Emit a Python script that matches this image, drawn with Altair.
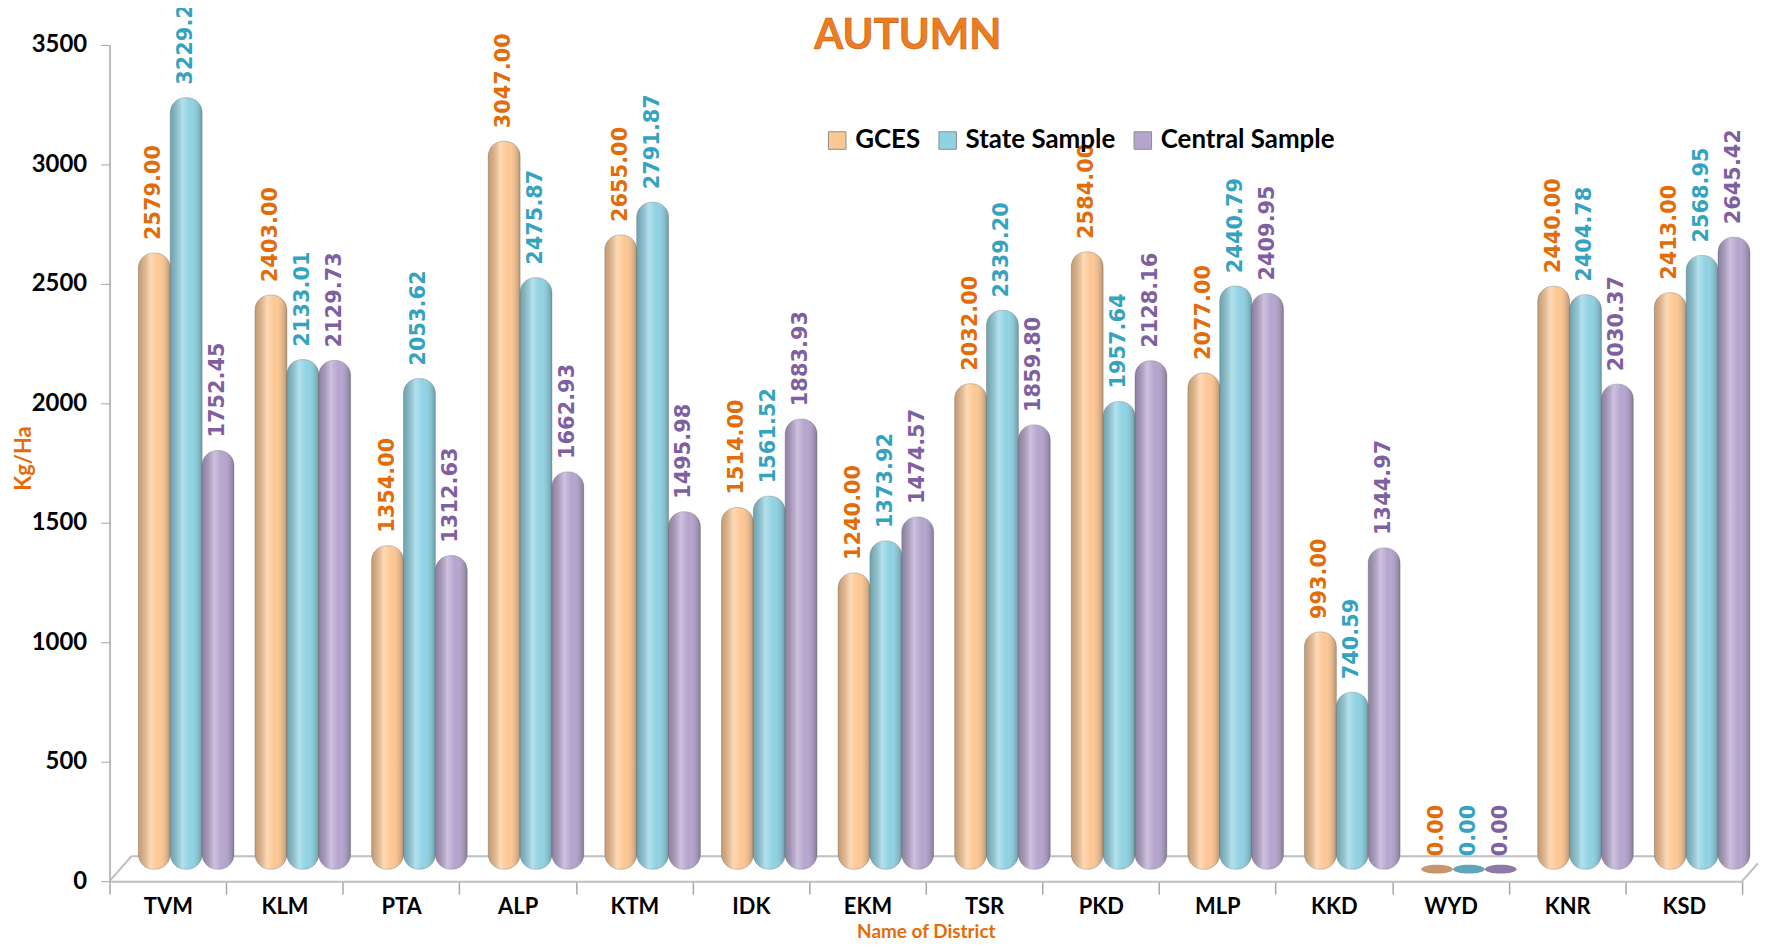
import altair as alt
import pandas as pd

districts = ["TVM", "KLM", "PTA", "ALP", "KTM", "IDK", "EKM", "TSR", "PKD", "MLP", "KKD", "WYD", "KNR", "KSD"]
series = ["GCES", "State Sample", "Central Sample"]
gces = [2579.00, 2403.00, 1354.00, 3047.00, 2655.00, 1514.00, 1240.00, 2032.00, 2584.00, 2077.00, 993.00, 0.00, 2440.00, 2413.00]
state = [3229.27, 2133.01, 2053.62, 2475.87, 2791.87, 1561.52, 1373.92, 2339.20, 1957.64, 2440.79, 740.59, 0.00, 2404.78, 2568.95]
central = [1752.45, 2129.73, 1312.63, 1662.93, 1495.98, 1883.93, 1474.57, 1859.80, 2128.16, 2409.95, 1344.97, 0.00, 2030.37, 2645.42]
y_ticks = [0, 500, 1000, 1500, 2000, 2500, 3000, 3500]

bar_colors = ["#FDC793", "#8FD2E3", "#B5A4CE"]
label_colors = ["#E36C09", "#35A3BF", "#7E60A0"]
base_colors = ["#C9956B", "#5FA7B8", "#8E7AA5"]

rows = []
for i, d in enumerate(districts):
    for s, vals in zip(series, [gces, state, central]):
        rows.append({"district": d, "series": s, "value": vals[i]})
df = pd.DataFrame(rows)

W, H = 1640, 840
LIFT = 12  # 3-D floor lift of the bars (px)

# --- axis layer (front plane of the 3-D floor) ---
x_axis = alt.Axis(title="Name of District", labelAngle=0, tickBand="extent",
                  domainColor="#BFBFBF", domainWidth=2, tickColor="#A6A6A6", tickWidth=1.5,
                  tickSize=13, labelPadding=3,
                  labelFont="Lato", labelFontWeight="bold", labelFontSize=22, labelColor="#000000",
                  titleFont="Lato", titleFontWeight="bold", titleFontSize=19, titleColor="#E36C09",
                  titleY=57, titleBaseline="alphabetic")
y_axis = alt.Axis(title="Kg/Ha", values=y_ticks, format="d",
                  grid=False, domainColor="#A6A6A6", domainWidth=1.5, tickColor="#A6A6A6",
                  tickSize=9, labelPadding=14,
                  labelFont="Lato", labelFontWeight="bold", labelFontSize=24, labelColor="#000000",
                  titleFont="Lato", titleFontWeight="bold", titleFontSize=22, titleColor="#E36C09",
                  titleX=-86, titleY=415, titleAngle=270, titleAlign="center", titleBaseline="middle")

axis_layer = alt.Chart(df).mark_tick(opacity=0).encode(
    x=alt.X("district:N", sort=districts, scale=alt.Scale(paddingInner=0, paddingOuter=0), axis=x_axis),
    y=alt.Y("value:Q", scale=alt.Scale(domain=[0, 3500], nice=False), axis=y_axis),
)

# --- bars on the raised back floor ---
xs = alt.X("district:N", sort=districts)
xoff = alt.XOffset("series:N", sort=series, scale=alt.Scale(range=[29, 125], paddingOuter=0, paddingInner=0))
ys = alt.Y("value:Q", stack=None, axis=None,
           scale=alt.Scale(domain=[0, 3500], nice=False, range=[H - LIFT, -LIFT]))

base = alt.Chart(df)

bars = base.mark_bar(cornerRadius=15, stroke="#7F7F7F", strokeOpacity=0.45, strokeWidth=1).encode(
    x=xs, xOffset=xoff, y=ys, y2=alt.datum(0),
    color=alt.Color("series:N", sort=series,
                    scale=alt.Scale(domain=series, range=bar_colors),
                    legend=alt.Legend(title=None, orient="none", direction="horizontal",
                                      legendX=718, legendY=83, symbolType="square", symbolSize=310,
                                      symbolStrokeColor="#8C8C8C", symbolStrokeWidth=1, labelLimit=0,
                                      labelFont="Lato", labelFontWeight="bold", labelFontSize=26,
                                      labelColor="#000000", columnPadding=14, labelOffset=5)),
).transform_filter("datum.value > 0")

shade = base.mark_bar(cornerRadius=15,
                      color=alt.Gradient(gradient="linear", x1=0, x2=1, y1=0, y2=0,
                                         stops=[alt.GradientStop(color="rgba(0,0,0,0.22)", offset=0),
                                                alt.GradientStop(color="rgba(255,255,255,0.32)", offset=0.38),
                                                alt.GradientStop(color="rgba(255,255,255,0.0)", offset=0.62),
                                                alt.GradientStop(color="rgba(0,0,0,0.26)", offset=1)])).encode(
    x=xs, xOffset=xoff, y=ys, y2=alt.datum(0),
).transform_filter("datum.value > 0")

zeros = base.mark_point(filled=True, opacity=1,
                        shape="M -1 0 A 1 0.28 0 1 0 1 0 A 1 0.28 0 1 0 -1 0 Z", size=1000).encode(
    x=xs, xOffset=xoff, y=ys,
    color=alt.Color("series:N", sort=series, scale=alt.Scale(domain=series, range=base_colors), legend=None),
).transform_filter("datum.value == 0")

labels = base.mark_text(angle=270, align="left", baseline="middle", dx=13,
                        font="DejaVu Sans", fontWeight="bold", fontSize=21).encode(
    x=xs, xOffset=xoff, y=ys,
    text=alt.Text("value:Q", format=".2f"),
    color=alt.Color("series:N", sort=series, scale=alt.Scale(domain=series, range=label_colors), legend=None),
)

one = pd.DataFrame({"v": [0]})
floor_back = alt.Chart(one).mark_rule(color="#BFBFBF", strokeWidth=2).encode(
    x=alt.value(22), x2=alt.value(W), y=alt.value(H - 25),
)
floor_left = alt.Chart(one).mark_rule(color="#BFBFBF", strokeWidth=2).encode(
    x=alt.value(0), x2=alt.value(22), y=alt.value(H), y2=alt.value(H - 25),
)
floor_right = alt.Chart(one).mark_rule(color="#BFBFBF", strokeWidth=2).encode(
    x=alt.value(W), x2=alt.value(W + 16), y=alt.value(H), y2=alt.value(H - 18),
)

title = alt.Chart(one).mark_text(text="AUTUMN", font="Lato", fontWeight="bold", fontSize=42,
                                 color="#EE7D1F", stroke="#C65A06", strokeWidth=0.6,
                                 align="center", baseline="alphabetic").encode(
    x=alt.value(802), y=alt.value(4),
)

chart = alt.layer(axis_layer, floor_back, floor_left, floor_right, bars, shade, zeros, labels, title).resolve_scale(
    color="independent", y="independent"
).properties(
    width=W, height=H,
    autosize=alt.AutoSizeParams(type="none"),
    padding={"left": 102, "top": 35, "right": 16, "bottom": 61},
).configure_view(stroke=None)

chart.save("out.html", embed_options={"renderer": "svg", "actions": False})
